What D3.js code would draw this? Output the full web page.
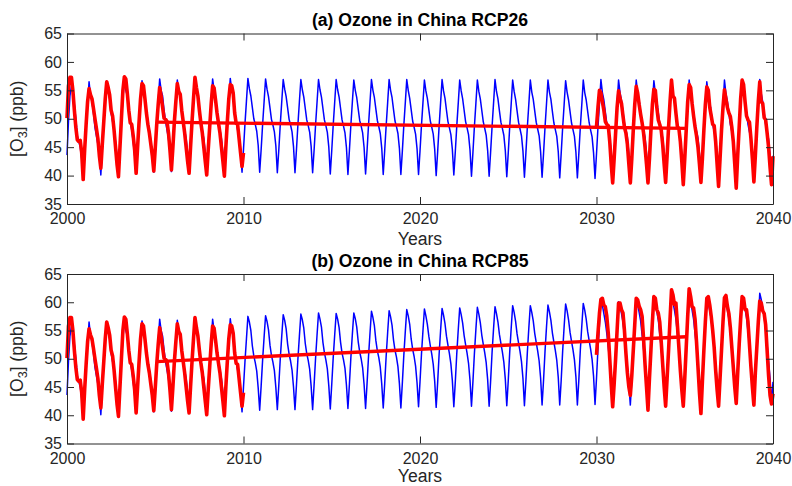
<!DOCTYPE html>
<html><head><meta charset="utf-8">
<script src="https://cdn.jsdelivr.net/npm/d3@7"></script>
<style>
body{margin:0;background:#fff;}
svg{display:block;font-family:"Liberation Sans",Arial,Helvetica,sans-serif;}
</style>
</head><body>
<svg id="c" width="792" height="486"></svg>
<script>
// ---------------- DATA ----------------
const xTicks = [2000, 2010, 2020, 2030, 2040];
const yTicks = [35, 40, 45, 50, 55, 60, 65];
const panelTitles = ["(a) Ozone in China RCP26", "(b) Ozone in China RCP85"];
const xLabel = "Years";

// monthly values, Jan 2000 .. Dec 2009 (shared historical blue)
const blueHist = [
 43.6,49.5,54.0,55.8,54.5,52.5,50.0,47.0,46.0,45.0,43.0,40.3,
 44.0,48.5,52.5,56.5,54.0,53.0,51.0,48.5,47.0,45.5,43.5,40.1,
 44.5,49.0,53.0,56.6,55.0,53.5,51.0,49.5,48.0,46.0,43.5,40.0,
 44.5,49.5,53.5,57.0,55.0,54.0,51.5,49.5,48.0,46.0,43.5,40.5,
 44.5,49.0,53.0,56.7,55.0,53.5,51.5,49.5,48.0,46.0,43.5,40.6,
 44.5,49.0,53.0,57.0,55.0,54.0,51.5,49.5,48.0,46.5,44.0,40.7,
 44.5,49.0,53.0,56.8,55.0,54.0,51.5,49.5,48.0,46.5,44.0,40.6,
 44.5,49.0,53.0,57.0,55.0,54.0,51.5,49.5,48.0,46.5,44.0,40.5,
 44.5,49.0,53.0,57.0,55.0,53.5,51.5,49.5,48.0,46.5,44.0,40.5,
 44.5,49.0,53.0,57.1,55.0,54.0,51.5,49.5,48.0,46.5,44.0,40.6
];
// monthly values, Jan 2010 .. Jan 2040, RCP26
const blueRCP26 = [
 44.6,49.1,53.1,57.1,55.3,54.0,52.0,50.0,49.0,47.8,45.3,40.6,
 44.6,49.0,53.0,57.0,55.2,53.9,51.9,49.9,48.9,47.7,45.2,40.5,
 44.5,49.0,53.0,56.9,55.2,53.9,51.9,49.9,48.9,47.7,45.1,40.5,
 44.5,49.0,53.0,56.9,55.1,53.8,51.8,49.8,48.8,47.6,45.1,40.5,
 44.5,48.9,52.9,56.9,55.1,53.8,51.8,49.8,48.8,47.6,45.0,40.3,
 44.4,48.9,52.9,56.9,55.1,53.8,51.8,49.8,48.7,47.5,44.9,40.2,
 44.4,48.9,52.9,56.8,55.0,53.7,51.7,49.7,48.7,47.5,44.9,40.3,
 44.4,48.9,52.9,56.9,55.0,53.7,51.7,49.7,48.6,47.4,44.8,40.2,
 44.4,48.8,52.8,56.9,55.0,53.7,51.6,49.6,48.6,47.4,44.8,40.2,
 44.3,48.8,52.8,56.9,55.0,53.6,51.6,49.6,48.5,47.3,44.7,40.2,
 44.3,48.8,52.8,56.8,54.9,53.6,51.6,49.6,48.5,47.3,44.6,40.0,
 44.2,48.7,52.8,56.9,54.9,53.6,51.5,49.5,48.4,47.2,44.6,40.1,
 44.2,48.7,52.7,56.8,54.9,53.5,51.5,49.5,48.4,47.2,44.5,39.9,
 44.1,48.7,52.7,56.8,54.8,53.5,51.5,49.5,48.3,47.1,44.4,39.9,
 44.1,48.6,52.7,56.9,54.8,53.5,51.4,49.4,48.3,47.1,44.4,39.8,
 44.0,48.6,52.6,56.8,54.8,53.4,51.4,49.4,48.2,47.0,44.3,39.7,
 44.0,48.6,52.6,56.8,54.7,53.4,51.4,49.4,48.2,47.0,44.2,39.7,
 43.9,48.5,52.6,56.8,54.7,53.4,51.3,49.3,48.1,46.9,44.2,39.6,
 43.9,48.5,52.5,56.7,54.7,53.3,51.3,49.3,48.1,46.9,44.1,39.6,
 43.9,48.5,52.5,56.8,54.6,53.3,51.3,49.3,48.0,46.8,44.0,39.5,
 43.8,48.5,52.6,56.9,54.6,53.3,51.2,49.2,48.0,46.8,44.0,39.5,
 43.8,48.4,52.5,56.8,54.6,53.2,51.2,49.2,48.0,46.7,43.9,39.5,
 43.8,48.4,52.5,56.8,54.5,53.2,51.2,49.2,47.9,46.7,43.9,39.4,
 43.7,48.4,52.4,56.7,54.5,53.2,51.1,49.1,47.9,46.6,43.8,39.4,
 43.7,48.3,52.3,56.5,54.5,53.1,51.1,49.1,47.9,46.6,43.8,39.4,
 43.7,48.3,52.4,56.8,54.5,53.1,51.1,49.1,47.8,46.6,43.8,39.3,
 43.6,48.2,52.3,56.5,54.4,53.1,51.0,49.0,47.8,46.5,43.7,39.3,
 43.6,48.3,52.4,56.8,54.4,53.0,51.0,49.0,47.8,46.5,43.7,39.3,
 43.6,48.3,52.5,56.9,54.4,53.0,51.0,49.0,47.7,46.5,43.7,39.2,
 43.5,48.3,52.5,56.9,54.4,53.0,51.0,49.0,47.7,46.4,43.6,39.2,
 43.5
];
// monthly values, Jan 2010 .. Jan 2040, RCP85
const blueRCP85 = [
 45.0,49.5,53.5,57.5,56.5,55.0,52.3,50.5,49.3,47.8,44.8,40.9,
 45.2,49.8,53.8,57.6,56.6,55.1,52.4,50.6,49.4,47.9,44.9,41.0,
 45.3,50.0,54.0,57.8,56.8,55.3,52.6,50.8,49.6,48.0,45.0,41.0,
 45.3,50.0,54.0,57.9,56.9,55.4,52.7,50.9,49.7,48.1,45.1,41.0,
 45.4,50.1,54.2,58.1,57.0,55.6,52.9,51.1,49.8,48.2,45.2,41.1,
 45.5,50.2,54.2,58.0,57.0,55.5,52.9,51.0,49.8,48.3,45.3,41.2,
 45.5,50.2,54.3,58.1,57.1,55.6,53.0,51.2,50.0,48.4,45.4,41.2,
 45.6,50.4,54.5,58.4,57.3,55.8,53.2,51.4,50.2,48.5,45.5,41.3,
 45.6,50.5,54.6,58.5,57.4,55.9,53.3,51.5,50.3,48.6,45.6,41.3,
 45.7,50.6,54.8,58.7,57.6,56.1,53.5,51.7,50.4,48.7,45.7,41.5,
 45.9,50.8,54.9,58.8,57.6,56.1,54.0,52.3,50.8,49.0,46.0,41.4,
 45.8,50.8,55.0,58.9,57.7,56.2,54.0,52.4,50.9,49.1,46.1,41.5,
 45.9,50.9,55.1,59.0,57.8,56.3,54.1,52.5,51.0,49.2,46.2,41.6,
 46.0,51.0,55.2,59.1,57.9,56.4,54.2,52.6,51.1,49.3,46.3,41.6,
 46.0,51.1,55.3,59.2,58.0,56.5,54.3,52.7,51.2,49.4,46.4,41.7,
 46.1,51.2,55.4,59.4,58.2,56.6,54.4,52.8,51.3,49.5,46.5,41.7,
 46.1,51.2,55.5,59.4,58.2,56.7,54.5,52.9,51.4,49.6,46.6,41.8,
 46.2,51.3,55.6,59.5,58.3,56.8,54.6,53.0,51.5,49.7,46.7,41.8,
 46.2,51.4,55.7,59.7,58.5,56.9,54.7,53.1,51.6,49.8,46.8,41.8,
 46.3,51.5,55.8,59.8,58.6,57.0,54.8,53.2,51.7,49.9,46.9,41.9,
 46.5,51.8,56.0,60.2,59.5,58.0,56.5,54.5,52.0,49.5,46.5,42.0,
 46.0,51.0,55.5,60.1,59.3,58.0,56.5,54.0,51.5,48.5,45.5,41.8,
 46.3,51.3,55.8,60.3,59.5,58.2,56.7,54.2,51.7,48.7,45.7,42.0,
 46.4,51.4,55.9,60.5,59.7,58.4,56.9,54.4,51.9,48.9,45.9,42.0,
 46.5,51.5,56.0,60.8,60.0,58.6,57.0,54.5,52.0,49.0,46.0,42.1,
 46.5,51.6,56.1,60.8,60.0,58.6,57.0,54.5,52.0,49.0,46.0,42.0,
 46.6,51.6,56.0,60.6,59.8,58.5,57.0,54.5,52.0,49.0,46.0,42.1,
 46.7,51.7,56.1,60.7,59.9,58.6,57.1,54.6,52.1,49.1,46.1,42.2,
 46.7,51.8,56.3,60.9,60.1,58.8,57.3,54.8,52.3,49.3,46.3,42.2,
 46.8,52.0,56.8,61.6,60.5,59.0,57.5,55.0,52.5,49.5,46.5,42.2,
 45.9
];
// red: monthly values, Jan 2000 .. Jan 2010 (shared)
const redHist = [
 50.1,55.8,57.3,57.3,55.0,51.5,48.5,46.3,46.0,46.2,44.0,39.3,
 44.5,49.0,53.0,55.3,54.2,53.5,51.8,50.0,48.3,46.5,43.5,41.3,
 45.5,49.5,53.5,56.5,55.5,54.2,51.5,50.5,48.0,45.0,42.0,39.8,
 45.0,50.0,55.0,57.4,57.0,54.5,51.5,49.3,49.0,47.0,44.5,40.4,
 45.0,49.5,53.5,56.2,55.8,53.5,51.0,49.0,47.5,45.5,43.5,40.8,
 44.8,49.0,52.5,55.5,54.0,52.0,50.1,49.9,49.5,47.5,44.5,41.0,
 45.0,49.5,53.0,56.2,54.8,54.3,51.5,49.5,47.5,45.0,42.5,40.4,
 45.0,49.5,53.5,57.3,55.5,54.0,51.5,49.3,47.5,45.0,42.5,40.1,
 44.5,48.5,52.5,55.8,55.4,53.3,51.0,49.2,47.5,45.0,42.5,39.9,
 45.0,49.5,53.5,56.0,55.8,54.5,51.0,49.2,49.0,46.5,44.0,41.6,
 44.0
];
// red: monthly values, Jan 2030 .. Jan 2040, RCP26
const redRCP26 = [
 48.6,52.0,55.0,54.5,53.0,51.5,49.5,49.0,48.8,46.0,42.0,38.7,
 43.0,47.5,52.0,54.9,53.6,52.7,50.5,48.5,47.5,45.5,42.0,38.7,
 43.0,48.0,52.5,55.7,54.5,52.5,50.8,49.3,47.5,45.0,42.0,38.7,
 43.0,48.0,52.5,55.2,55.0,52.0,49.8,49.0,48.0,45.5,42.0,38.8,
 43.5,48.5,53.0,56.8,54.0,53.6,51.0,48.6,48.3,46.0,42.5,38.4,
 43.0,48.0,53.0,56.0,55.5,52.7,50.5,48.6,47.0,45.0,42.0,38.8,
 43.0,48.0,52.5,55.6,55.0,52.0,50.5,49.0,48.8,46.0,42.0,38.1,
 43.0,48.0,52.0,55.1,53.5,52.0,51.0,50.4,48.5,46.0,42.0,37.8,
 43.5,48.5,53.5,56.8,56.0,53.0,50.5,49.8,49.4,46.5,43.0,38.9,
 43.5,48.5,53.0,56.5,53.0,52.7,50.2,49.8,47.5,45.0,41.5,38.4,
 43.4
];
// red: monthly values, Jan 2030 .. Jan 2040, RCP85
const redRCP85 = [
 50.7,54.5,58.0,60.5,60.7,59.5,59.2,57.5,54.5,50.0,45.5,41.5,
 45.5,50.0,55.0,59.85,59.85,58.7,58.1,55.0,51.0,47.5,45.0,43.5,
 47.0,51.5,56.0,60.7,60.4,59.3,58.7,57.5,53.5,49.0,45.0,40.9,
 46.5,51.5,56.5,61.0,60.7,58.7,58.1,56.5,53.0,49.0,45.0,41.6,
 46.5,51.5,57.0,62.2,61.3,59.6,59.85,56.0,52.0,48.0,44.5,41.6,
 46.5,52.0,57.5,62.4,61.0,59.2,59.0,57.0,53.0,48.5,44.0,40.3,
 46.0,51.5,56.5,60.7,61.0,59.5,57.5,55.0,52.0,48.0,44.5,41.6,
 46.5,51.5,56.5,60.8,61.2,59.3,58.0,55.5,52.0,48.5,45.0,42.1,
 47.5,52.5,57.0,61.0,60.7,58.7,58.7,56.5,52.5,48.5,45.0,41.8,
 47.5,52.0,56.5,60.2,59.9,58.5,58.0,56.0,51.5,47.0,43.5,42.0,
 43.8
];
// linear trend endpoints
const trendYears = [2005.083, 2035.083];
const trendRCP26 = [49.4, 48.3];
const trendRCP85 = [49.5, 53.9];

// ---------------- DRAW ----------------
const svg = d3.select("#c");
const left = 67, right = 773;
const panels = [
  {top: 33.5, bottom: 204, title: panelTitles[0], blue: blueHist.concat(blueRCP26), red1: redHist, red2: redRCP26, trend: trendRCP26},
  {top: 274, bottom: 443.5, title: panelTitles[1], blue: blueHist.concat(blueRCP85), red1: redHist, red2: redRCP85, trend: trendRCP85}
];
const axisColor = "#262626";
const toSeries = (arr, startYear) => arr.map((v, i) => ({t: startYear + i / 12, v}));

panels.forEach(p => {
  const x = d3.scaleLinear().domain([2000, 2040]).range([left, right]);
  const y = d3.scaleLinear().domain([35, 65]).range([p.bottom, p.top]);
  const g = svg.append("g");

  const line = d3.line().x(d => x(d.t)).y(d => y(d.v));

  g.append("path").datum(toSeries(p.blue, 2000))
    .attr("d", line).attr("fill", "none").attr("stroke", "#0000ff")
    .attr("stroke-width", 1.5).attr("stroke-linejoin", "round");

  [[p.red1, 2000], [p.red2, 2030]].forEach(([arr, y0]) => {
    g.append("path").datum(toSeries(arr, y0))
      .attr("d", line).attr("fill", "none").attr("stroke", "#ff0000")
      .attr("stroke-width", 3.6).attr("stroke-linejoin", "round");
  });

  g.append("path").datum(trendYears.map((t, i) => ({t, v: p.trend[i]})))
    .attr("d", line).attr("fill", "none").attr("stroke", "#ff0000")
    .attr("stroke-width", 3.4);

  // axes (ticks inside, box)
  const ax = (gen, tr) => {
    const a = g.append("g").attr("transform", tr).call(gen);
    a.selectAll(".domain").attr("stroke", axisColor).attr("stroke-width", 1);
    a.selectAll(".tick line").attr("stroke", axisColor).attr("stroke-width", 1);
    a.selectAll("text").attr("fill", axisColor).style("font-size", "16px")
      .style("font-family", '"Liberation Sans",Arial,Helvetica,sans-serif');
    return a;
  };
  ax(d3.axisBottom(x).tickValues(xTicks).tickFormat(d3.format("d")).tickSizeInner(-7).tickSizeOuter(0).tickPadding(9),
     `translate(0,${p.bottom})`);
  ax(d3.axisTop(x).tickValues(xTicks).tickFormat("").tickSizeInner(-7).tickSizeOuter(0),
     `translate(0,${p.top})`);
  ax(d3.axisLeft(y).tickValues(yTicks).tickSizeInner(-7).tickSizeOuter(0).tickPadding(5),
     `translate(${left},0)`);
  ax(d3.axisRight(y).tickValues(yTicks).tickFormat("").tickSizeInner(-7).tickSizeOuter(0),
     `translate(${right},0)`);

  // title
  g.append("text").attr("x", (left + right) / 2).attr("y", p.top - 7.5)
    .attr("text-anchor", "middle").attr("font-weight", "bold")
    .style("font-size", "17.6px").attr("fill", "#000").text(p.title);

  // x label
  g.append("text").attr("x", (left + right) / 2).attr("y", Math.min(p.bottom + 40.5, 482))
    .attr("text-anchor", "middle").style("font-size", "17.6px")
    .attr("fill", axisColor).text(xLabel);

  // y label with subscript
  const cy = (p.top + p.bottom) / 2;
  const yl = g.append("text").attr("transform", `translate(23,${cy}) rotate(-90)`)
    .attr("text-anchor", "middle").style("font-size", "17.6px").attr("fill", axisColor);
  yl.append("tspan").text("[O");
  yl.append("tspan").attr("dy", 4).style("font-size", "12.5px").text("3");
  yl.append("tspan").attr("dy", -4).text("] (ppb)");
});
</script>
</body></html>
